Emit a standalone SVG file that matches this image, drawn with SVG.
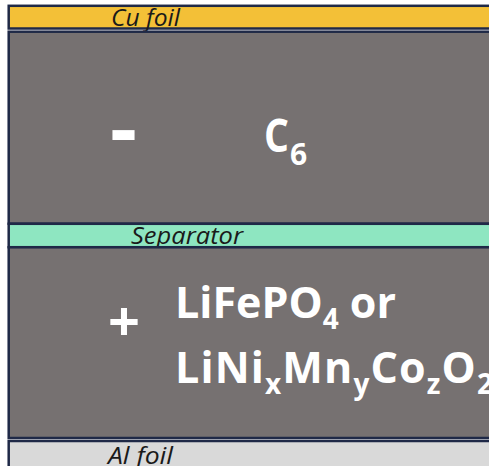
<svg xmlns="http://www.w3.org/2000/svg" width="489" height="466" viewBox="0 0 489 466">
  <style>
    .layer { stroke: #1f2947; stroke-width: 2.5; }
    .label { font-family: "Open Sans", "Noto Sans", sans-serif; font-style: italic; font-size: 23px; fill: #1a1a1a; }
    .chem { font-family: "Open Sans", "Noto Sans", sans-serif; font-weight: bold; fill: #ffffff; }
  </style>
  <rect width="489" height="466" fill="#ffffff"/>

  <!-- current collector: copper -->
  <g id="cu-foil">
    <rect class="layer" x="8.7" y="5.8" width="520" height="22.7" fill="#f3c037"/>
    <text class="label" x="111" y="26" textLength="69" lengthAdjust="spacingAndGlyphs">Cu foil</text>
  </g>

  <!-- negative electrode -->
  <g id="anode">
    <rect class="layer" x="8.7" y="31.7" width="520" height="192" fill="#767171"/>
    <text class="chem" x="110" y="157" font-size="80" textLength="27" lengthAdjust="spacingAndGlyphs">-</text>
    <text class="chem" x="264" y="152" font-size="46"><tspan textLength="25" lengthAdjust="spacingAndGlyphs">C</tspan><tspan x="290" font-size="30" dy="13">6</tspan></text>
  </g>

  <!-- separator -->
  <g id="separator">
    <rect class="layer" x="8.7" y="223.8" width="520" height="23.4" fill="#8ee6c1"/>
    <text class="label" x="131" y="244" textLength="112" lengthAdjust="spacingAndGlyphs">Separator</text>
  </g>

  <!-- positive electrode -->
  <g id="cathode">
    <rect class="layer" x="8.7" y="247.3" width="520" height="190.7" fill="#767171"/>
    <text class="chem" x="108" y="341" font-size="56">+</text>
    <text class="chem" x="175" y="318" font-size="43">LiFePO<tspan font-size="28" dy="11">4</tspan><tspan dy="-11"> or</tspan></text>
    <text class="chem" x="175" y="383" font-size="43" textLength="318" lengthAdjust="spacing">LiNi<tspan font-size="28" dy="11">x</tspan><tspan dy="-11">Mn</tspan><tspan font-size="28" dy="11">y</tspan><tspan dy="-11">Co</tspan><tspan font-size="28" dy="11">z</tspan><tspan dy="-11">O</tspan><tspan font-size="28" dy="11">2</tspan></text>
  </g>

  <!-- current collector: aluminium -->
  <g id="al-foil">
    <rect class="layer" x="8.7" y="441" width="520" height="30" fill="#d9d9d9"/>
    <text class="label" x="108" y="464" textLength="65" lengthAdjust="spacingAndGlyphs">Al foil</text>
  </g>

  <g id="connectors"/>
</svg>
